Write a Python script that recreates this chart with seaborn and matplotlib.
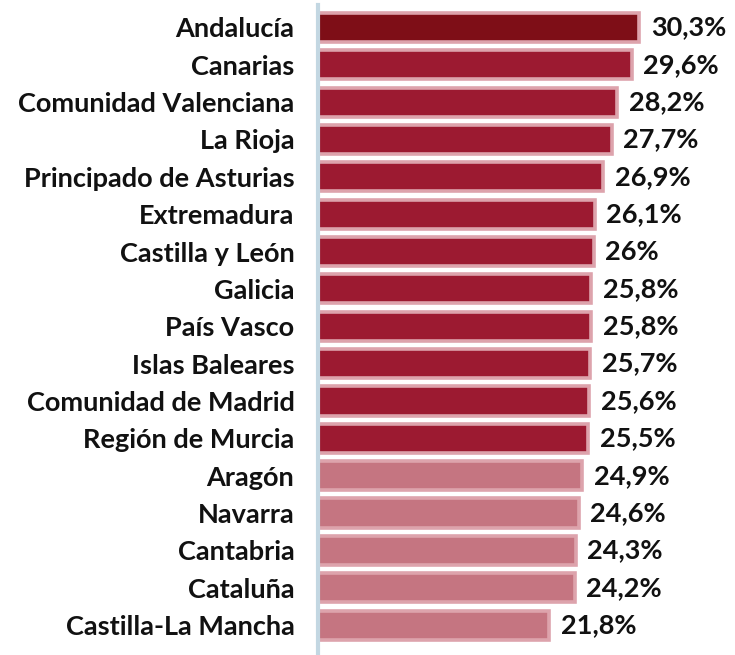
import matplotlib
matplotlib.use("Agg")
import matplotlib.pyplot as plt
import seaborn as sns
import pandas as pd

regions = ["Andalucía", "Canarias", "Comunidad Valenciana", "La Rioja",
           "Principado de Asturias", "Extremadura", "Castilla y León", "Galicia",
           "País Vasco", "Islas Baleares", "Comunidad de Madrid", "Región de Murcia",
           "Aragón", "Navarra", "Cantabria", "Cataluña", "Castilla-La Mancha"]
values = [30.3, 29.6, 28.2, 27.7, 26.9, 26.1, 26.0, 25.8, 25.8, 25.7, 25.6, 25.5,
          24.9, 24.6, 24.3, 24.2, 21.8]
labels = ["30,3%", "29,6%", "28,2%", "27,7%", "26,9%", "26,1%", "26%", "25,8%",
          "25,8%", "25,7%", "25,6%", "25,5%", "24,9%", "24,6%", "24,3%", "24,2%", "21,8%"]

colors = ["#7e0e17"] + ["#9c1a31"] * 11 + ["#c57581"] * 5

df = pd.DataFrame({"region": regions, "value": values})

sns.set_style("white")
plt.rcParams["font.family"] = ["Lato", "DejaVu Sans"]

fig = plt.figure(figsize=(7.35, 6.55), dpi=100)
ax = fig.add_axes([318 / 735, 0, 412 / 735, 650 / 655])

sns.barplot(data=df, y="region", x="value", hue="region", palette=colors,
            legend=False, width=0.78, ax=ax, saturation=1,
            edgecolor="#dda3ac", linewidth=2.6)

for i, (v, t) in enumerate(zip(values, labels)):
    ax.text(v + 1.1, i, t, va="center", ha="left", fontsize=19.5,
            fontweight="bold", color="#111111")

ax.set_xlim(0, 412 / 10.6)
ax.set_ylim(16.8, -0.6)
ax.set_xlabel("")
ax.set_ylabel("")
ax.set_xticks([])
ax.tick_params(axis="y", length=0, pad=17, labelsize=19.5)
for lab in ax.get_yticklabels():
    lab.set_fontweight("bold")
    lab.set_color("#111111")

for s in ["top", "right", "bottom"]:
    ax.spines[s].set_visible(False)
ax.spines["left"].set_color("#c3d7e2")
ax.spines["left"].set_linewidth(3)

fig.savefig("out.png", dpi=100)
